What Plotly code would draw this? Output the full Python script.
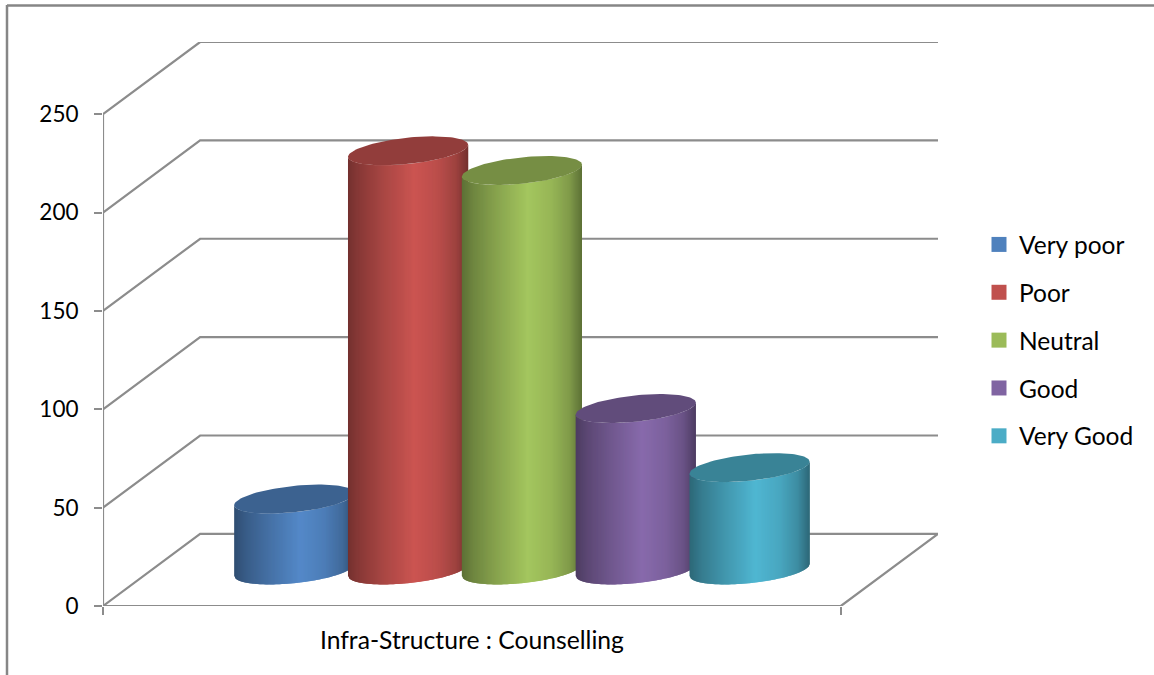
import numpy as np
import plotly.graph_objects as go

# ---- data ----
categories = ["Very poor", "Poor", "Neutral", "Good", "Very Good"]
values = [36, 213, 203, 82, 52]
colors = ["#4F81BD", "#C0504D", "#9BBB59", "#8064A2", "#4BACC6"]
y_ticks = [0, 50, 100, 150, 200, 250]
x_label = "Infra-Structure : Counselling"

# ---- 3D look (oblique projection in axis units) ----
W, H = 1154, 675
L, R, T, B = 103, 938, 42, 606
DEPTH_Y = 36.66            # value units between front and back wall
DEPTH_X = 97 / 737         # fraction of a category width
GRID = "#8C8C8C"
FONT = "Lato"
px_y = (B - T) / (250 + DEPTH_Y)
CYL_W = 120 / 737
STEP = 113.7 / 737
FIRST = 142.5 / 737
TILT = 6 / px_y
MINOR = 13.2 / px_y


def shade(c, f):
    r, g, b = int(c[1:3], 16), int(c[3:5], 16), int(c[5:7], 16)
    return "rgb(%d,%d,%d)" % tuple(min(255, int(round(v * f))) for v in (r, g, b))


STOP_U = [-1, -0.8, -0.4, 0.1, 0.5, 0.8, 1]
STOP_F = [0.60, 0.72, 0.88, 1.06, 0.97, 0.82, 0.60]

fig = go.Figure()

# walls and floor
gx, gy = [], []
for v in y_ticks:
    gx += [0, DEPTH_X, 1 + DEPTH_X, None]
    gy += [v, v + DEPTH_Y, v + DEPTH_Y, None]
gx += [0, 1, 1 + DEPTH_X, None, 0, 0]
gy += [0, 0, DEPTH_Y, None, 0, y_ticks[-1]]
fig.add_trace(go.Scatter(x=gx, y=gy, mode="lines", line=dict(color=GRID, width=2.2),
                         showlegend=False, hoverinfo="skip", cliponaxis=False))

# cylinders
N = 120
for i, (name, val, col) in enumerate(zip(categories, values, colors)):
    cx = FIRST + STEP * i + DEPTH_X / 2
    base = DEPTH_Y / 2
    top = val + DEPTH_Y / 2
    edges = np.linspace(-1, 1, N + 1)
    for j in range(N):
        u = np.linspace(edges[j], edges[min(j + 2, N)], 3)
        front = TILT * u - MINOR * np.sqrt(np.clip(1 - u ** 2, 0, 1))
        xs = cx + u * CYL_W / 2
        px = np.r_[xs, xs[::-1]]
        py = np.r_[base + front, (top + front)[::-1]]
        f = np.interp((edges[j] + edges[j + 1]) / 2, STOP_U, STOP_F)
        fig.add_trace(go.Scatter(x=px, y=py, mode="lines", fill="toself",
                                 fillcolor=shade(col, f), line=dict(width=0),
                                 legendgroup=name, showlegend=False,
                                 hoverinfo="skip", cliponaxis=False))
    t = np.linspace(0, 2 * np.pi, 121)
    fig.add_trace(go.Scatter(x=cx + np.cos(t) * CYL_W / 2,
                             y=top + TILT * np.cos(t) + MINOR * np.sin(t),
                             mode="lines", fill="toself", fillcolor=shade(col, 0.76),
                             line=dict(width=0), legendgroup=name, showlegend=False,
                             hoverinfo="skip", cliponaxis=False))

# legend entries
for name, col in zip(categories, colors):
    fig.add_trace(go.Scatter(x=[None], y=[None], mode="markers", name=name,
                             legendgroup=name,
                             marker=dict(symbol="square", size=15, color=col)))

fx = lambda p: (p - L) / (R - L)
fy = lambda p: (B - p) / (B - T)
border = dict(type="line", xref="paper", yref="paper",
              line=dict(color="#868686", width=2.5))
fig.update_layout(
    width=W, height=H, autosize=False,
    margin=dict(l=L, r=W - R, t=T, b=H - B, pad=0),
    paper_bgcolor="white", plot_bgcolor="white",
    font=dict(family=FONT, size=24, color="#000000"),
    showlegend=True,
    legend=dict(x=fx(979), xanchor="left", y=fy(222), yanchor="top",
                tracegroupgap=13, font=dict(family=FONT, size=24.5),
                bgcolor="rgba(0,0,0,0)", itemclick=False, itemdoubleclick=False),
    shapes=[
        dict(border, x0=fx(7), x1=fx(W + 5), y0=fy(5.5), y1=fy(5.5)),
        dict(border, x0=fx(7), x1=fx(7), y0=fy(5), y1=fy(H + 5)),
    ],
    xaxis=dict(range=[0, 1 + DEPTH_X], showgrid=False, zeroline=False, showline=False,
               tickmode="array", tickvals=[0.5], ticktext=[x_label], ticks="",
               ticklabelstandoff=17, tickfont=dict(family=FONT, size=24.7),
               minor=dict(tickmode="array", tickvals=[0, 1], ticks="outside", ticklen=8,
                          tickwidth=2, tickcolor=GRID, showgrid=False)),
    yaxis=dict(range=[0, 250 + DEPTH_Y], showgrid=False, zeroline=False, showline=False,
               tickmode="array", tickvals=y_ticks, ticks="outside", ticklen=8,
               tickwidth=2, tickcolor=GRID, ticklabelstandoff=11,
               tickfont=dict(family=FONT, size=22.5)),
)
fig.write_html("out.html", config=dict(displayModeBar=False),
               post_script="document.body.style.margin='0';document.body.style.overflow='hidden';")
